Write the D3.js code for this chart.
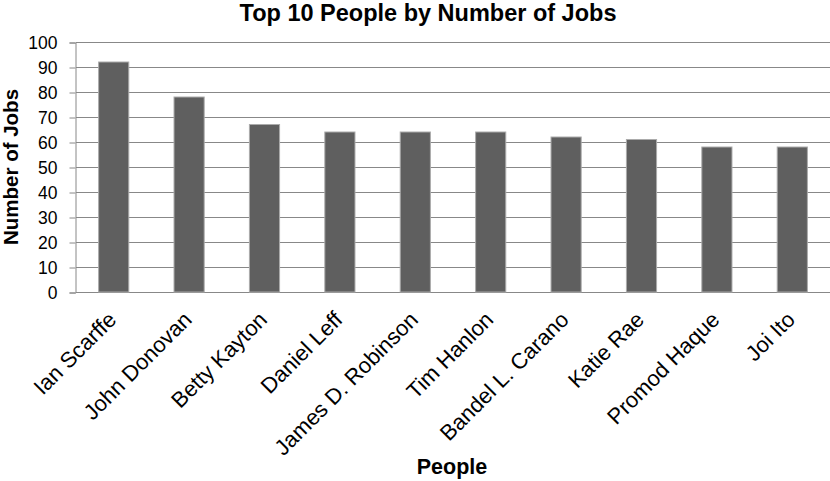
<!DOCTYPE html>
<html>
<head>
<meta charset="utf-8">
<script src="https://cdn.jsdelivr.net/npm/d3@7"></script>
<style>
  body { margin: 0; background: #fff; }
  svg text { font-family: "Liberation Sans", Arial, sans-serif; fill: #000; }
</style>
</head>
<body>
<div id="chart"></div>
<script>
const people = ["Ian Scarffe", "John Donovan", "Betty Kayton", "Daniel Leff",
  "James D. Robinson", "Tim Hanlon", "Bandel L. Carano", "Katie Rae",
  "Promod Haque", "Joi Ito"];
const jobs = [92, 78, 67, 64, 64, 64, 62, 61, 58, 58];
const yTicks = [0, 10, 20, 30, 40, 50, 60, 70, 80, 90, 100];

const width = 830, height = 481;
const margin = { top: 42, right: 0, bottom: 189, left: 76 };

const svg = d3.select("#chart").append("svg")
  .attr("width", width)
  .attr("height", height);

const x = d3.scaleBand()
  .domain(people)
  .range([margin.left, width - margin.right])
  .paddingInner(0.6)
  .paddingOuter(0.3);

const y = d3.scaleLinear()
  .domain([0, 100])
  .range([height - margin.bottom, margin.top]);

// gridlines
svg.append("g")
  .selectAll("line")
  .data(yTicks)
  .join("line")
  .attr("x1", margin.left)
  .attr("x2", width)
  .attr("y1", (d) => Math.round(y(d)) + 0.5)
  .attr("y2", (d) => Math.round(y(d)) + 0.5)
  .attr("stroke", "#888")
  .attr("stroke-width", 1);

// y axis
const yAxis = svg.append("g")
  .attr("transform", `translate(${margin.left - 0.5},0.5)`)
  .call(d3.axisLeft(y).tickValues(yTicks).tickSize(6).tickPadding(12));
yAxis.select(".domain").attr("stroke", "#888");
yAxis.selectAll(".tick line").attr("stroke", "#888");
yAxis.selectAll(".tick text")
  .attr("font-size", 17.5)
  .attr("dy", "0.36em")
  .style("font-family", "'Liberation Sans', Arial, sans-serif");

// bars
svg.append("g")
  .selectAll("rect")
  .data(jobs)
  .join("rect")
  .attr("x", (d, i) => x(people[i]))
  .attr("y", (d) => y(d))
  .attr("width", x.bandwidth())
  .attr("height", (d) => y(0) - y(d))
  .attr("fill", "#5f5f5f")
  .attr("stroke", "#ababab")
  .attr("stroke-width", 1);

// x labels
svg.append("g")
  .selectAll("text")
  .data(people)
  .join("text")
  .attr("transform", (d) => `translate(${x(d) + x.bandwidth() / 2 + 4},${y(0) + 29}) rotate(-45)`)
  .attr("text-anchor", "end")
  .attr("font-size", 22)
  .text((d) => d);

// title
svg.append("text")
  .attr("x", 428)
  .attr("y", 21)
  .attr("text-anchor", "middle")
  .attr("font-size", 23.5)
  .attr("font-weight", "bold")
  .text("Top 10 People by Number of Jobs");

// axis titles
svg.append("text")
  .attr("transform", `translate(18,${(y(0) + y(100)) / 2}) rotate(-90)`)
  .attr("text-anchor", "middle")
  .attr("font-size", 20.5)
  .attr("font-weight", "bold")
  .text("Number of Jobs");

svg.append("text")
  .attr("x", 452)
  .attr("y", 474)
  .attr("text-anchor", "middle")
  .attr("font-size", 21.5)
  .attr("font-weight", "bold")
  .text("People");
</script>
</body>
</html>
